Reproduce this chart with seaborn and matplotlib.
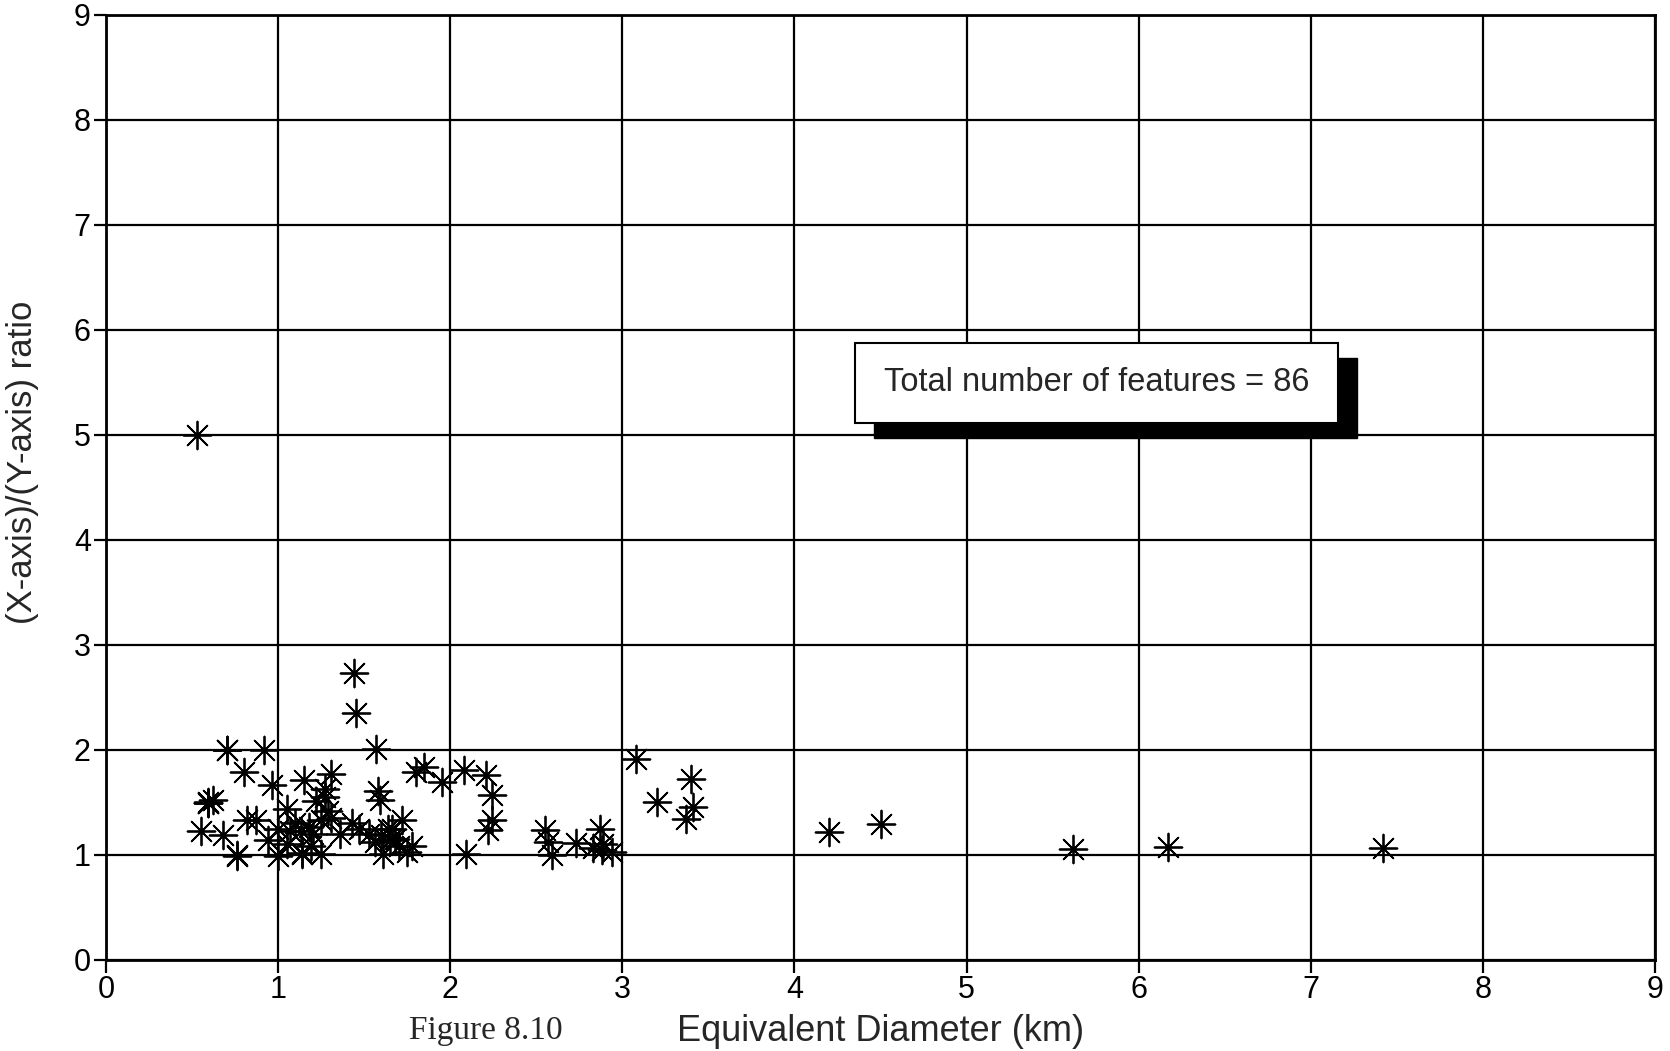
import matplotlib
matplotlib.use("Agg")
import matplotlib.pyplot as plt
import seaborn as sns
import pandas as pd
from matplotlib.patches import Rectangle

# Equivalent diameter (km)
diameter = [
    1.44, 1.45, 0.70, 0.70, 0.92, 1.57, 0.80, 0.965, 1.15, 1.31,
    1.27, 1.27, 1.22, 0.59, 0.59, 0.59, 1.05, 1.58, 1.59, 1.80,
    1.85, 1.95, 2.08, 0.82, 0.87, 0.55, 0.68, 0.94, 1.00, 1.07,
    1.13, 1.18, 1.25, 1.31, 1.43, 1.36, 1.53, 1.60, 1.66, 1.72,
    1.68, 1.70, 1.78, 1.75, 1.61, 0.76, 0.76, 1.00, 1.14, 1.14,
    1.19, 1.25, 2.09, 2.21, 2.24, 2.24, 2.22, 2.55, 2.57, 2.59,
    2.73, 2.87, 2.83, 2.89, 2.94, 3.08, 3.20, 3.40, 3.41, 3.37,
    0.53, 4.20, 4.50, 5.62, 6.17, 7.42,
    1.65, 1.64, 2.88, 1.20, 1.05, 1.10, 1.29, 0.62, 1.47, 1.56,
]
# (X-axis)/(Y-axis) ratio
ratio = [
    2.73, 2.35, 2.00, 2.00, 2.00, 2.01, 1.79, 1.67, 1.71, 1.77,
    1.63, 1.55, 1.51, 1.49, 1.50, 1.49, 1.44, 1.61, 1.52, 1.79,
    1.84, 1.69, 1.81, 1.33, 1.33, 1.23, 1.19, 1.14, 1.25, 1.23,
    1.23, 1.27, 1.33, 1.35, 1.30, 1.20, 1.20, 1.19, 1.25, 1.33,
    1.15, 1.09, 1.09, 1.03, 1.01, 0.99, 1.00, 0.99, 1.01, 1.02,
    1.09, 1.01, 1.01, 1.76, 1.57, 1.33, 1.24, 1.24, 1.12, 1.00,
    1.11, 1.25, 1.07, 1.10, 1.03, 1.91, 1.50, 1.72, 1.46, 1.34,
    5.00, 1.22, 1.29, 1.06, 1.08, 1.07,
    1.14, 1.25, 1.05, 1.20, 1.10, 1.30, 1.42, 1.52, 1.25, 1.12,
]
ticks = [0, 1, 2, 3, 4, 5, 6, 7, 8, 9]
note = "Total number of features = 86"

df = pd.DataFrame({"diameter": diameter, "ratio": ratio})

sns.set_style("ticks")
plt.rcParams["font.family"] = ["Liberation Sans", "DejaVu Sans"]

fig = plt.figure(figsize=(16.70, 10.51), dpi=100)
ax = fig.add_axes([0.0635, 0.0866, 0.9275, 0.8994])

ax.grid(True, color="black", linewidth=1.6, zorder=0)
ax.set_axisbelow(True)

sns.scatterplot(data=df, x="diameter", y="ratio", marker=(8, 2, 0), s=400,
                color="black", linewidth=1.3, ax=ax, zorder=3)

ax.set_xlim(0, 9)
ax.set_ylim(0, 9)
ax.set_xticks(ticks)
ax.set_yticks(ticks)
ax.set_xticklabels([str(t) for t in ticks])
ax.set_yticklabels([str(t) for t in ticks])
ax.tick_params(axis="both", direction="out", length=9, width=1.6,
               labelsize=22, color="black", labelcolor="black", pad=2)
for s in ax.spines.values():
    s.set_color("black")
    s.set_linewidth(2)

ax.set_xlabel("")
ax.set_ylabel("(X-axis)/(Y-axis) ratio", fontsize=25)
ax.yaxis.set_label_coords(-0.043, 0.526)

fig.text(0.527, 0.019, "Equivalent Diameter (km)", fontsize=26,
         ha="center", va="center")
fig.text(0.291, 0.019, "Figure 8.10", fontsize=24, ha="center", va="center",
         family=["Liberation Serif", "DejaVu Serif"])

# Annotation box with drop shadow
ax.add_patch(Rectangle((0.4960, 0.552), 0.3115, 0.085, transform=ax.transAxes,
                       facecolor="black", edgecolor="black", zorder=5))
ax.add_patch(Rectangle((0.4836, 0.568), 0.3115, 0.085, transform=ax.transAxes,
                       facecolor="white", edgecolor="black", linewidth=1.5,
                       zorder=6))
ax.text(0.4836 + 0.3115 / 2, 0.6105, note, transform=ax.transAxes,
        fontsize=23.5, ha="center", va="center", zorder=7)

fig.savefig("out.png", dpi=100)
